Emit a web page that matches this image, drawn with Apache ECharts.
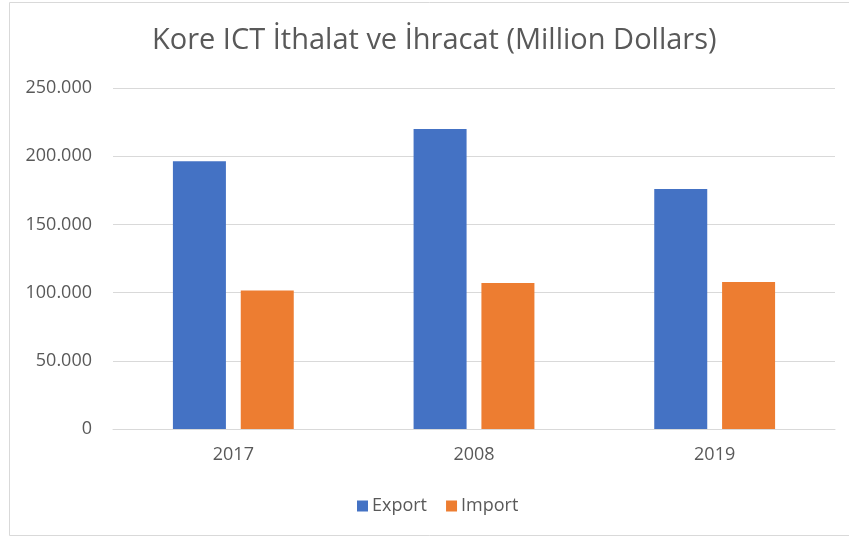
<!DOCTYPE html>
<html>
<head>
<meta charset="utf-8">
<script src="https://cdn.jsdelivr.net/npm/echarts@6/dist/echarts.min.js"></script>
<style>
html, body { margin: 0; padding: 0; background: #fff; }
#main { width: 849px; height: 537px; }
</style>
</head>
<body>
<div id="main"></div>
<script>
// data
var years = ['2017', '2008', '2019'];
var exportValues = [196300, 220000, 176000];
var importValues = [101500, 107000, 107800];
var seriesNames = ['Export', 'Import'];

var dom = document.getElementById("main");
var myChart = echarts.init(dom);
var option = null;
option = {
    color: ['#4472C4', '#ED7D31'],
    textStyle: {
        fontFamily: 'Open Sans'
    },
    title: {
        text: 'Kore ICT İthalat ve İhracat (Million Dollars)',
        left: 147,
        top: 21,
        textStyle: {
            fontFamily: 'Open Sans',
            fontSize: 29,
            fontWeight: 'normal',
            color: '#595959'
        }
    },
    graphic: [
        {
            type: 'rect',
            shape: { x: 9.5, y: 2.5, width: 850, height: 533 },
            style: { fill: 'none', stroke: '#d9d9d9', lineWidth: 1 },
            silent: true
        }
    ],
    legend: {
        data: seriesNames,
        left: 352,
        top: 492,
        itemWidth: 11,
        itemHeight: 11,
        itemGap: 19,
        icon: 'rect',
        textStyle: {
            fontSize: 18,
            color: '#595959',
            padding: [0, 0, 0, -1]
        }
    },
    grid: {
        left: 113,
        right: 14,
        top: 88,
        bottom: 108
    },
    xAxis: {
        type: 'category',
        data: years,
        axisTick: { show: false },
        axisLine: {
            show: true,
            lineStyle: { color: '#d9d9d9', width: 1 }
        },
        axisLabel: {
            fontSize: 18,
            color: '#595959',
            margin: 17
        }
    },
    yAxis: {
        type: 'value',
        min: 0,
        max: 250000,
        interval: 50000,
        axisTick: { show: false },
        axisLine: { show: false },
        splitLine: {
            show: true,
            lineStyle: { color: '#d9d9d9', width: 1 }
        },
        axisLabel: {
            fontSize: 18,
            color: '#595959',
            margin: 21,
            formatter: function (v) {
                return String(v).replace(/\B(?=(\d{3})+(?!\d))/g, '.');
            }
        }
    },
    series: [
        {
            name: seriesNames[0],
            type: 'bar',
            barWidth: 53,
            barGap: '28%',
            data: exportValues
        },
        {
            name: seriesNames[1],
            type: 'bar',
            barWidth: 53,
            data: importValues
        }
    ]
};
if (option && typeof option === "object") {
    myChart.setOption(option, true);
}
</script>
</body>
</html>
